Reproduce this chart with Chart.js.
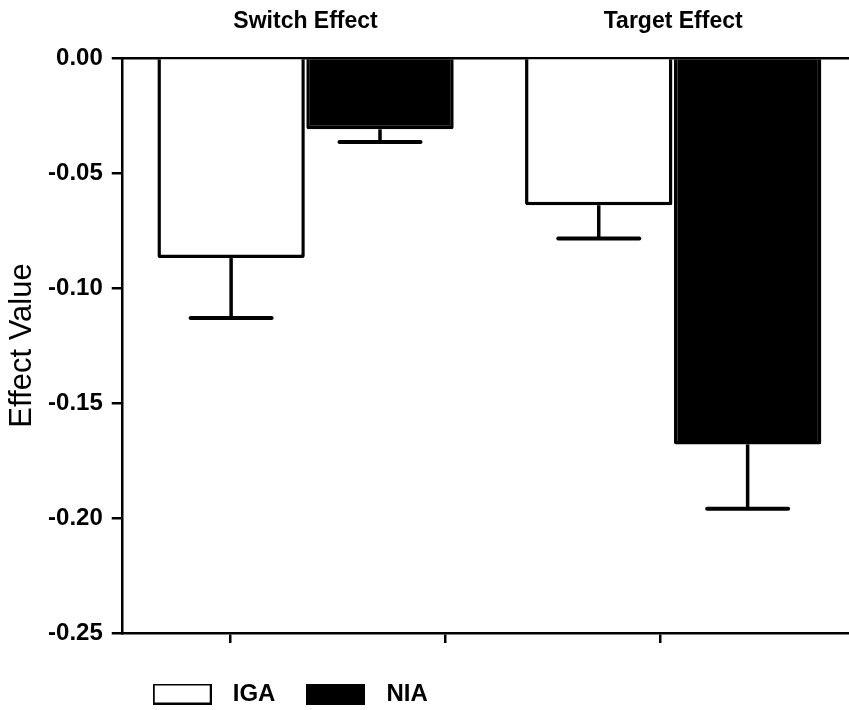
<!DOCTYPE html>
<html>
<head>
<meta charset="utf-8">
<script src="https://cdn.jsdelivr.net/npm/chart.js@4"></script>
<style>
  html, body { margin: 0; padding: 0; background: #fff; overflow: hidden; }
  #wrap { width: 857px; height: 716px; }
</style>
</head>
<body>
<div id="wrap"><canvas id="c" width="857" height="716"></canvas></div>
<script>
// ---- data ----
const categories = ['Switch Effect', 'Target Effect'];
const seriesNames = ['IGA', 'NIA'];
const igaValues = [-0.087, -0.064];
const niaValues = [-0.031, -0.168];
const igaErrors = [0.026, 0.0145];
const niaErrors = [0.0055, 0.028];
const yTickValues = [0, -0.05, -0.10, -0.15, -0.20, -0.25];
const bottomTickPositions = [0.5035, 1.5035, 2.5035];

const FONT = 'Arial, "Liberation Sans", sans-serif';
const errorsByDataset = [igaErrors, niaErrors];

function makeSwatch(fill) {
  const c = document.createElement('canvas');
  c.width = 59; c.height = 21;
  const g = c.getContext('2d');
  g.fillStyle = fill;
  g.fillRect(1, 1, 57, 19);
  g.strokeStyle = '#000';
  g.lineWidth = 2;
  g.strokeRect(1, 1, 57, 19);
  return c;
}
const swatches = [makeSwatch('#ffffff'), makeSwatch('#000000')];

const errorBarPlugin = {
  id: 'errorBars',
  afterDatasetsDraw(chart) {
    const ctx = chart.ctx;
    const yScale = chart.scales.y;
    chart.data.datasets.forEach((ds, i) => {
      const meta = chart.getDatasetMeta(i);
      meta.data.forEach((bar, j) => {
        const v = ds.data[j];
        const e = errorsByDataset[i][j];
        const y0 = yScale.getPixelForValue(v);
        const y1 = yScale.getPixelForValue(v - e);
        ctx.save();
        ctx.strokeStyle = '#000';
        ctx.lineWidth = 3.5;
        ctx.beginPath();
        ctx.moveTo(bar.x, y0);
        ctx.lineTo(bar.x, y1);
        ctx.stroke();
        ctx.lineWidth = 4;
        ctx.lineCap = 'round';
        ctx.beginPath();
        ctx.moveTo(bar.x - 40.5, y1);
        ctx.lineTo(bar.x + 40.5, y1);
        ctx.stroke();
        ctx.restore();
      });
    });
  }
};

new Chart(document.getElementById('c'), {
  type: 'bar',
  data: {
    labels: categories,
    datasets: [
      { label: seriesNames[0], data: igaValues, backgroundColor: '#ffffff', borderColor: '#000000',
        borderWidth: 3.5, borderRadius: 2, borderSkipped: 'start', xAxisID: 'x', yAxisID: 'y' },
      { label: seriesNames[1], data: niaValues, backgroundColor: '#000000', borderColor: '#000000',
        borderWidth: 3.5, borderRadius: 2, borderSkipped: 'start', xAxisID: 'x', yAxisID: 'y' }
    ]
  },
  options: {
    responsive: false,
    animation: false,
    devicePixelRatio: 1,
    layout: { padding: 0 },
    datasets: { bar: { categoryPercentage: 0.81, barPercentage: 0.99 } },
    plugins: {
      tooltip: { enabled: false },
      legend: {
        position: 'bottom',
        align: 'start',
        fullSize: false,
        labels: {
          usePointStyle: true,
          pointStyleWidth: 77,
          padding: 22,
          color: '#000',
          font: { family: FONT, size: 24, weight: 'bold' },
          generateLabels(chart) {
            const items = Chart.defaults.plugins.legend.labels.generateLabels(chart);
            items.forEach((it, i) => { it.pointStyle = swatches[i]; });
            return items;
          }
        }
      }
    },
    scales: {
      x: {
        type: 'category',
        position: 'top',
        offset: true,
        z: 1,
        grid: { display: true, drawOnChartArea: false, drawTicks: false },
        border: { display: true, color: '#000', width: 2.5 },
        ticks: { color: '#000', padding: 23, font: { family: FONT, size: 23, weight: 'bold' } },
        afterFit(s) { s.height = 58; }
      },
      x2: {
        type: 'linear',
        position: 'bottom',
        display: true,
        offset: false,
        min: 0,
        max: 3.4186,
        afterBuildTicks(s) { s.ticks = bottomTickPositions.map(v => ({ value: v })); },
        grid: { display: true, offset: false, drawOnChartArea: false, drawTicks: true, tickLength: 10, color: '#000', lineWidth: 2.5 },
        border: { display: true, color: '#000', width: 2.5 },
        ticks: { display: false },
        afterFit(s) { s.height = 27; }
      },
      y: {
        type: 'linear',
        position: 'left',
        min: -0.25,
        max: 0,
        afterBuildTicks(s) { s.ticks = yTickValues.map(v => ({ value: v })); },
        grid: { display: true, drawOnChartArea: false, drawTicks: true, tickLength: 10, color: '#000', lineWidth: 2.5 },
        border: { display: true, color: '#000', width: 2.5 },
        ticks: {
          color: '#000',
          padding: 9,
          font: { family: FONT, size: 24, weight: 'bold' },
          callback: (v) => (Math.abs(v) < 1e-9 ? 0 : v).toFixed(2)
        },
        title: {
          display: true,
          text: 'Effect Value',
          color: '#000',
          padding: { top: 4, bottom: 4 },
          font: { family: FONT, size: 31, weight: 'normal' }
        },
        afterFit(s) { s.width = 121.75; }
      }
    }
  },
  plugins: [errorBarPlugin]
});
</script>
</body>
</html>
